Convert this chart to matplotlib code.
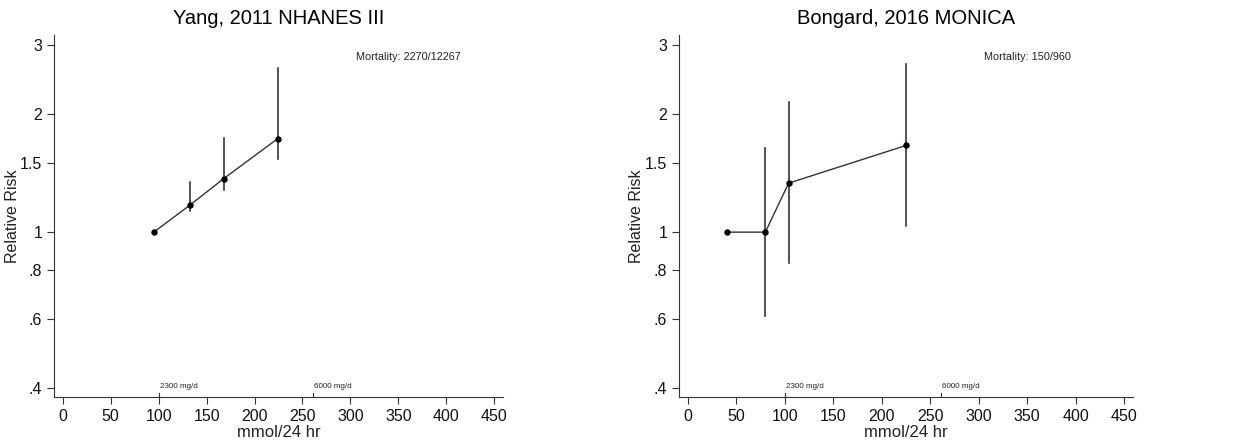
import matplotlib.pyplot as plt
import matplotlib.transforms as mtransforms
import numpy as np

plt.rcParams["font.family"] = ["Liberation Sans", "DejaVu Sans"]

# panel 1: Yang, 2011 NHANES III
yang_x = [95, 133, 168, 224]
yang_rr = [1.0, 1.174, 1.371, 1.732]
yang_lo = [1.0, 1.13, 1.285, 1.537]
yang_hi = [1.0, 1.34, 1.745, 2.63]

# panel 2: Bongard, 2016 MONICA
bong_x = [40.5, 80, 104, 225]
bong_rr = [1.0, 1.0, 1.334, 1.665]
bong_lo = [1.0, 0.612, 0.833, 1.038]
bong_hi = [1.0, 1.64, 2.15, 2.69]

titles = ["Yang, 2011 NHANES III", "Bongard, 2016 MONICA"]
mortality = ["Mortality: 2270/12267", "Mortality: 150/960"]

guide_mmol = [100, 261]
guide_labels = ["2300 mg/d", "6000 mg/d"]

yticks = [0.4, 0.6, 0.8, 1, 1.5, 2, 3]
ytick_labels = [".4", ".6", ".8", "1", "1.5", "2", "3"]
xticks = np.arange(0, 451, 50)

fig = plt.figure(figsize=(12.34, 4.43), dpi=100)
boxes = [[0.0438, 0.1038, 0.3638, 0.8172], [0.5503, 0.1038, 0.3677, 0.8172]]
series = [(yang_x, yang_rr, yang_lo, yang_hi), (bong_x, bong_rr, bong_lo, bong_hi)]

for i in range(2):
    ax = fig.add_axes(boxes[i])
    x, rr, lo, hi = series[i]
    ax.set_yscale("log")
    ax.set_xlim(-9, 459)
    ax.set_ylim(0.379, 3.19)

    for j in range(len(x)):
        if hi[j] != lo[j]:
            ax.plot([x[j], x[j]], [lo[j], hi[j]], color="#222222", lw=1.1, zorder=2)
    ax.plot(x, rr, color="#333333", lw=1.0, zorder=3)
    ax.scatter(x, rr, s=13, color="black", zorder=4)

    trans = mtransforms.blended_transform_factory(ax.transData, ax.transAxes)
    for g in range(len(guide_mmol)):
        ax.plot([guide_mmol[g], guide_mmol[g]], [0, 0.01], color="#333333", lw=0.8,
                transform=trans, clip_on=False)
        ax.text(guide_mmol[g] + 1, 0.02, guide_labels[g], transform=trans,
                fontsize=5.8, ha="left", va="bottom", color="#222222")

    ax.text(0.673, 0.94, mortality[i], transform=ax.transAxes,
            fontsize=7.8, ha="left", va="center", color="#222222")

    ax.set_yticks(yticks)
    ax.set_yticklabels(ytick_labels)
    ax.yaxis.set_minor_locator(plt.NullLocator())
    ax.set_xticks(xticks)
    ax.tick_params(labelsize=11.5, length=5, color="#333333", labelcolor="#111111")
    ax.set_xlabel("mmol/24 hr", fontsize=12, labelpad=1, color="#222222")
    ax.set_ylabel("Relative Risk", fontsize=11.5, color="#222222", va="center")
    ax.yaxis.set_label_coords(-0.093, 0.5)
    ax.set_title(titles[i], fontsize=14.5, pad=8)
    for side in ["top", "right"]:
        ax.spines[side].set_visible(False)
    for side in ["left", "bottom"]:
        ax.spines[side].set_color("#333333")

fig.savefig("out.png", dpi=100, facecolor="white")
